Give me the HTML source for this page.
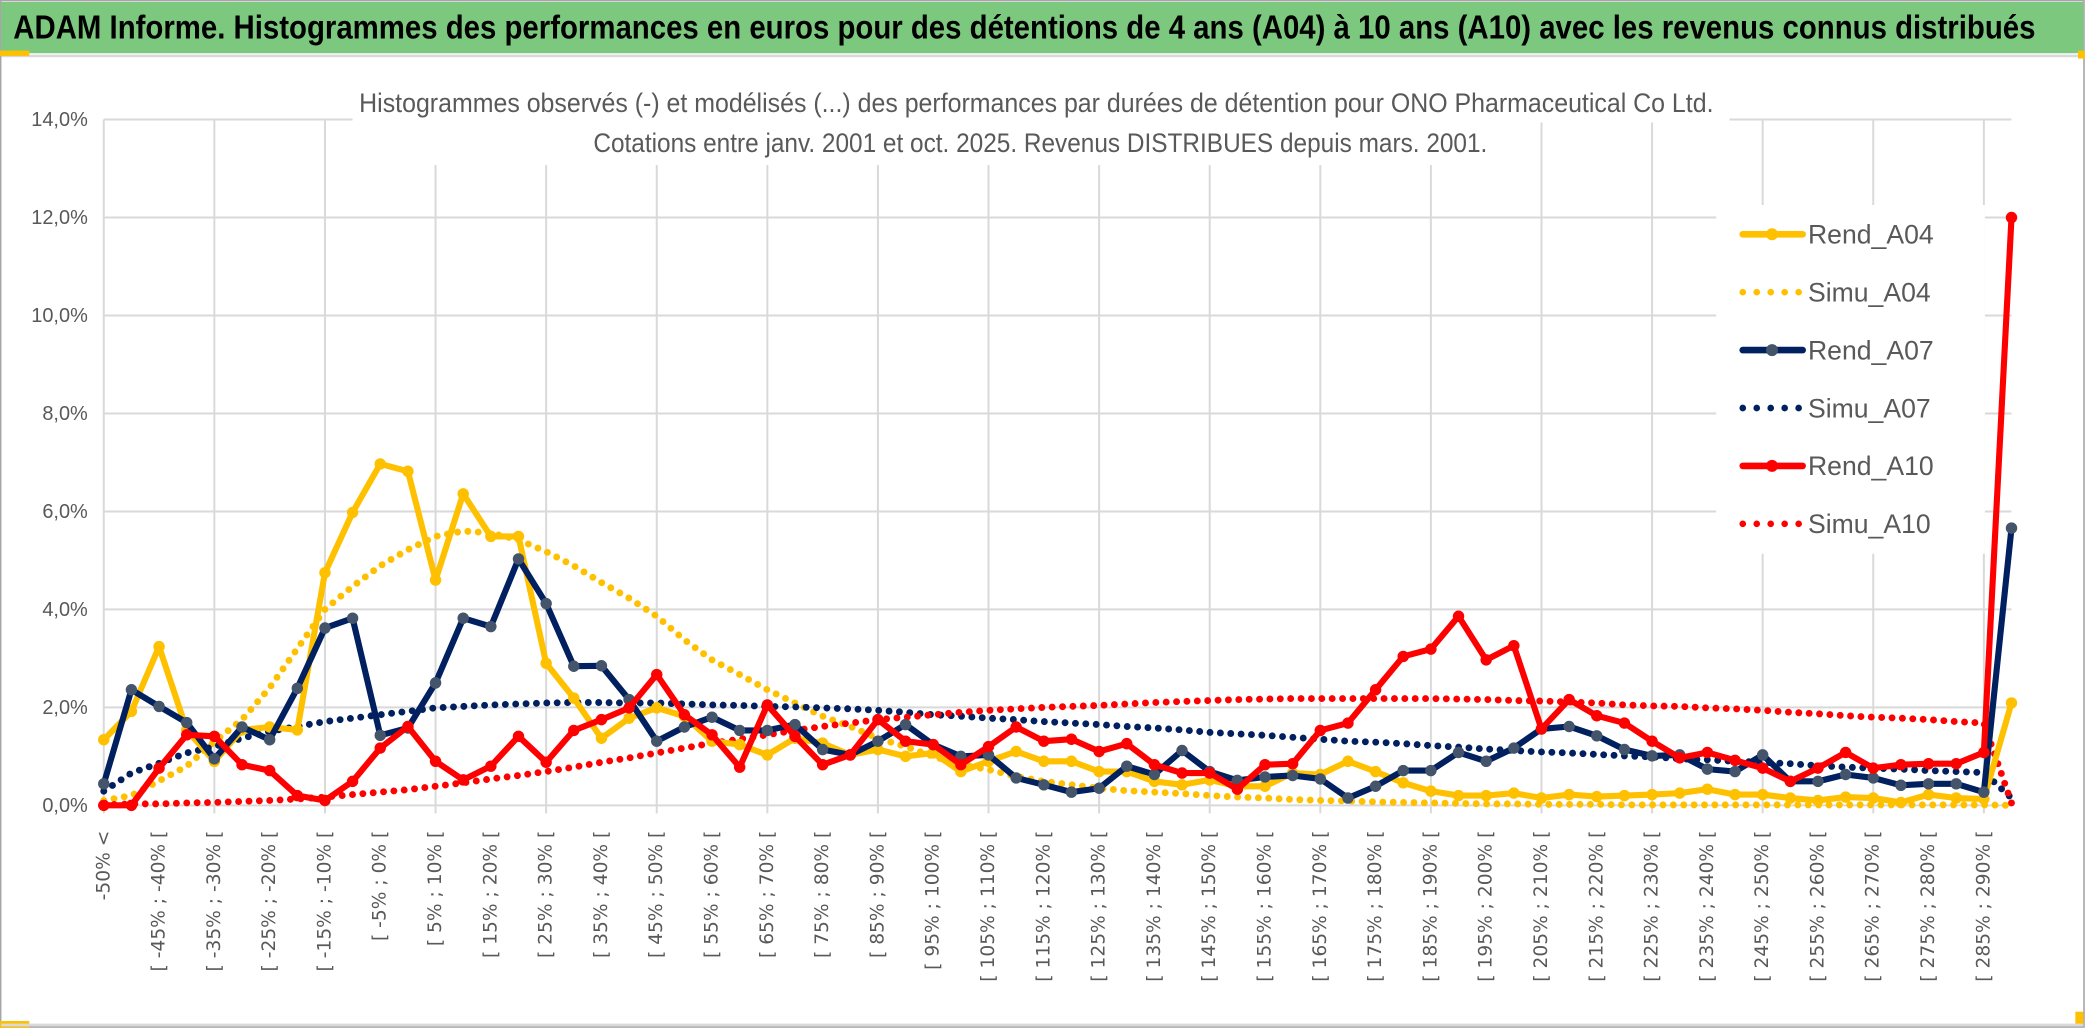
<!DOCTYPE html>
<html><head><meta charset="utf-8"><style>
html,body{margin:0;padding:0;background:#fff;}
svg{display:block;}
</style></head><body>
<svg id="chart" width="2086" height="1033" viewBox="0 0 1568 776" preserveAspectRatio="none" xmlns="http://www.w3.org/2000/svg" font-family="'Liberation Sans', sans-serif">
<rect x="0" y="0" width="1568" height="776" fill="#fff"/>
<rect x="0.5" y="0.5" width="1566" height="771" fill="none" stroke="#a6a6a6" stroke-width="1.2"/>
<rect x="1" y="1.5" width="1565" height="38.5" fill="#7dc87f"/>
<line x1="1" y1="42" x2="1566" y2="42" stroke="#d9d9d9" stroke-width="2"/>
<rect x="0" y="38" width="22" height="4" fill="#ffc000"/>
<rect x="1562" y="38" width="5" height="6" fill="#ffc000"/>
<rect x="0" y="767" width="22" height="5" fill="#ffc000"/>
<rect x="1560" y="760" width="6" height="10" fill="#ffc000"/>
<line x1="1" y1="770" x2="1566" y2="770" stroke="#d9d9d9" stroke-width="2"/>
<text x="10" y="29" font-size="25" font-weight="bold" fill="#000" textLength="1520" lengthAdjust="spacingAndGlyphs">ADAM Informe. Histogrammes des performances en euros pour des détentions de 4 ans (A04) à 10 ans (A10) avec les revenus connus distribués</text>
<g id="grid"></g>
<g id="axes"></g>
<g id="series"></g>
<rect x="265" y="55" width="1035" height="37" fill="#fff"/>
<rect x="265" y="92" width="860" height="32" fill="#fff"/>
<text x="270" y="84" font-size="20" fill="#595959" textLength="1018" lengthAdjust="spacingAndGlyphs">Histogrammes observés (-) et modélisés (...) des performances par durées de détention pour ONO Pharmaceutical Co Ltd.</text>
<text x="446" y="114" font-size="20" fill="#595959" textLength="672" lengthAdjust="spacingAndGlyphs">Cotations entre janv. 2001 et oct. 2025. Revenus DISTRIBUES depuis mars. 2001.</text>
<g id="legend"></g>
</svg>
<script>
const yTicks = [0, 2, 4, 6, 8, 10, 12, 14];
const categories = (function(){const c=["-50% <"];for(let k=1;k<70;k++){const a=-50+5*(k-1);c.push("[ "+a+"% ; "+(a+5)+"% [");}return c;})();
const rendA04 = [1.34,1.92,3.24,1.54,0.9,1.54,1.6,1.54,4.75,5.98,6.97,6.82,4.6,6.36,5.49,5.49,2.9,2.19,1.37,1.78,1.99,1.82,1.31,1.24,1.03,1.37,1.27,1.03,1.14,1.0,1.07,0.69,0.9,1.1,0.9,0.9,0.69,0.69,0.49,0.42,0.52,0.39,0.39,0.66,0.63,0.9,0.69,0.46,0.29,0.2,0.2,0.25,0.15,0.22,0.18,0.2,0.22,0.25,0.33,0.22,0.22,0.15,0.1,0.17,0.15,0.06,0.22,0.15,0.13,2.09];
const rendA07 = [0.44,2.36,2.02,1.69,0.95,1.6,1.34,2.39,3.62,3.82,1.43,1.58,2.5,3.82,3.65,5.03,4.12,2.84,2.85,2.16,1.31,1.6,1.8,1.53,1.53,1.65,1.14,1.03,1.31,1.65,1.24,1.0,1.03,0.56,0.42,0.27,0.35,0.8,0.63,1.12,0.69,0.51,0.58,0.61,0.54,0.15,0.39,0.71,0.71,1.08,0.9,1.17,1.56,1.61,1.42,1.14,1.01,1.03,0.74,0.69,1.03,0.49,0.49,0.63,0.56,0.41,0.44,0.44,0.27,5.66];
const rendA10 = [0,0,0.76,1.44,1.41,0.83,0.71,0.2,0.1,0.49,1.17,1.61,0.9,0.52,0.8,1.41,0.88,1.53,1.75,1.99,2.67,1.85,1.44,0.78,2.05,1.41,0.83,1.03,1.75,1.31,1.24,0.83,1.2,1.6,1.31,1.35,1.1,1.26,0.83,0.66,0.66,0.33,0.83,0.85,1.53,1.68,2.36,3.04,3.19,3.86,2.97,3.26,1.56,2.16,1.83,1.68,1.31,0.97,1.08,0.92,0.76,0.49,0.76,1.08,0.76,0.83,0.85,0.85,1.08,12.0];
const simuA04 = [0.1,0.2,0.5,0.8,1.3,1.75,2.4,3.2,4.0,4.47,4.89,5.22,5.49,5.6,5.56,5.42,5.18,4.89,4.55,4.23,3.86,3.38,2.97,2.67,2.36,2.09,1.82,1.61,1.37,1.2,1.0,0.83,0.73,0.59,0.49,0.42,0.35,0.3,0.27,0.24,0.2,0.17,0.15,0.12,0.1,0.09,0.07,0.06,0.05,0.04,0.03,0.03,0.02,0.02,0.02,0.01,0.01,0.01,0.01,0.01,0.01,0.01,0.01,0.01,0.01,0.01,0.01,0.01,0.01,0.0];
const simuA07 = [0.29,0.66,0.86,1.07,1.2,1.37,1.51,1.61,1.71,1.78,1.85,1.92,1.99,2.02,2.05,2.07,2.09,2.1,2.1,2.09,2.09,2.07,2.05,2.04,2.02,2.01,1.99,1.97,1.94,1.9,1.85,1.82,1.78,1.75,1.71,1.68,1.65,1.61,1.58,1.54,1.49,1.46,1.43,1.39,1.35,1.31,1.29,1.26,1.22,1.19,1.15,1.12,1.09,1.07,1.04,1.01,0.99,0.95,0.93,0.9,0.88,0.85,0.81,0.78,0.76,0.74,0.71,0.69,0.67,0.15];
const simuA10 = [0.01,0.03,0.03,0.05,0.06,0.08,0.1,0.13,0.17,0.22,0.27,0.32,0.39,0.46,0.54,0.61,0.69,0.78,0.88,0.97,1.07,1.17,1.27,1.35,1.44,1.53,1.61,1.68,1.75,1.8,1.85,1.9,1.94,1.97,2.0,2.02,2.04,2.07,2.1,2.12,2.14,2.16,2.17,2.18,2.18,2.18,2.18,2.18,2.18,2.17,2.16,2.14,2.13,2.11,2.09,2.05,2.03,2.02,1.99,1.97,1.94,1.9,1.87,1.83,1.8,1.78,1.75,1.71,1.68,0.05];
const seriesNames = ["Rend_A04","Simu_A04","Rend_A07","Simu_A07","Rend_A10","Simu_A10"];

const NS="http://www.w3.org/2000/svg";
const X0=78, X1=1512, Y0=605, PX_PER_PCT=36.8;
const n=categories.length;
function xAt(i){return X0+i*(X1-X0)/(n-1);}
function yAt(v){return Y0-v*PX_PER_PCT;}
function mk(tag,attrs,parent){const e=document.createElementNS(NS,tag);for(const k in attrs)e.setAttribute(k,attrs[k]);parent.appendChild(e);return e;}

const grid=document.getElementById('grid'), axes=document.getElementById('axes'), ser=document.getElementById('series'), leg=document.getElementById('legend');
yTicks.forEach(function(t){
  const l=mk('line',{x1:X0,x2:X1,y1:yAt(t),y2:yAt(t),stroke:'#d9d9d9','stroke-width':1.5},grid);
  
  
  const tx=mk('text',{x:66,y:yAt(t)+5,'text-anchor':'end','font-size':15,fill:'#595959'},axes);
  tx.textContent=t.toFixed(1).replace('.',',')+'%';
  
  
});
for(let i=0;i<n;i+=4){
  const l=mk('line',{x1:xAt(i),x2:xAt(i),y1:yAt(14),y2:Y0+6,stroke:'#d9d9d9','stroke-width':1.5},grid);
  
  
}
for(let i=0;i<n;i+=2){
  const x=xAt(i), y=624;
  const tx=mk('text',{x:x,y:y,transform:'rotate(-90 '+x+' '+y+')','text-anchor':'end','dominant-baseline':'central','font-size':14,fill:'#595959','font-family':"'DejaVu Sans', sans-serif"},axes);
  tx.textContent=categories[i];
  
  
}
function pts(arr){return arr.map(function(v,i){return xAt(i)+','+yAt(v);}).join(' ');}
function dotted(arr,color,name){
  const p=mk('polyline',{points:pts(arr),fill:'none',stroke:color,'stroke-width':5.2,'stroke-linecap':'round','stroke-linejoin':'round','stroke-dasharray':'0 7.8'},ser);
  
  
}
function solid(arr,color,mcolor,name){
  const g=mk('g',{},ser);
  
  
  mk('polyline',{points:pts(arr),fill:'none',stroke:color,'stroke-width':4.6,'stroke-linejoin':'round'},g);
  arr.forEach(function(v,i){
    const c=mk('circle',{cx:xAt(i),cy:yAt(v),r:4.3,fill:mcolor},g);
    
    
  });
}
dotted(simuA04,'#ffc000','simu-a04-line');
dotted(simuA07,'#002060','simu-a07-line');
dotted(simuA10,'#ff0000','simu-a10-line');
solid(rendA04,'#ffc000','#ffc000','rend-a04-line');
solid(rendA07,'#002060','#44546a','rend-a07-line');
solid(rendA10,'#ff0000','#ff0000','rend-a10-line');

mk('rect',{x:1290,y:154,width:202,height:262,fill:'#fff'},leg);
const legColors=['#ffc000','#ffc000','#002060','#002060','#ff0000','#ff0000'];
const legMark=['#ffc000',null,'#44546a',null,'#ff0000',null];
seriesNames.forEach(function(nm,i){
  const y=176+i*43.5;
  const g=mk('g',{},leg);
  
  
  if(i%2===0){
    mk('line',{x1:1310,x2:1355,y1:y,y2:y,stroke:legColors[i],'stroke-width':5,'stroke-linecap':'round'},g);
    mk('circle',{cx:1332,cy:y,r:4.5,fill:legMark[i]},g);
  } else {
    mk('line',{x1:1310,x2:1356,y1:y,y2:y,stroke:legColors[i],'stroke-width':5,'stroke-linecap':'round','stroke-dasharray':'0 10.5'},g);
  }
  const t=mk('text',{x:1359,y:y+7,'font-size':20,fill:'#595959'},g);
  t.textContent=nm;
});
</script>
</body></html>
